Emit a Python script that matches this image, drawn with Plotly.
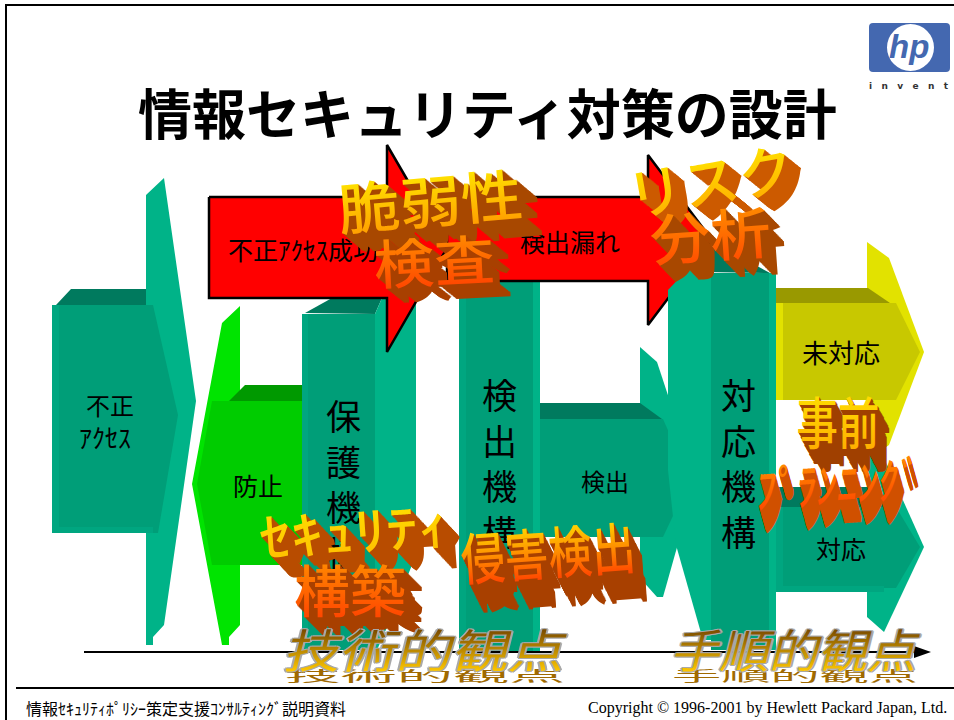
import json
import plotly.graph_objects as go

CJK = "Noto Sans CJK JP"

# Solid diagram parts, each a list of (x, y) corners in slide pixels
TEAL_FRONT, TEAL_SIDE, TEAL_TOP, TEAL_EDGE = "#009E78", "#00B388", "#007A5E", "#00A680"
GREEN_FRONT, GREEN_SIDE, GREEN_TOP = "#00CC00", "#00E400", "#009900"
YELLOW_FRONT, YELLOW_SIDE, YELLOW_TOP = "#C8C800", "#E2E200", "#999900"
RED = "#FF0000"

intrusion_parts = [
    ([(146, 195), (164, 178), (196, 401), (164, 625), (153, 637), (153, 645), (146, 645)], TEAL_SIDE),
    ([(56, 305), (71, 289), (146, 289), (146, 305)], TEAL_TOP),
    ([(52, 305), (153, 305), (178, 415), (158, 533), (52, 533)], TEAL_FRONT),
    ([(52, 305), (59, 305), (59, 527), (52, 533)], TEAL_EDGE),
    ([(52, 527), (153, 527), (153, 533), (52, 533)], TEAL_EDGE),
]
prevention_parts = [
    ([(222, 323), (240, 306), (240, 625), (229, 637), (229, 645), (222, 645), (192, 484)], GREEN_SIDE),
    ([(229, 401), (245, 385), (302, 385), (302, 401)], GREEN_TOP),
    ([(212, 401), (302, 401), (302, 565), (212, 565), (197, 484)], GREEN_FRONT),
]
protection_parts = [
    ([(305, 313), (332, 298), (382, 298), (375, 314)], TEAL_TOP),
    ([(375, 314), (382, 298), (416, 300), (416, 555), (388, 625), (377, 650), (375, 650)], TEAL_SIDE),
    ([(302, 314), (375, 314), (375, 650), (302, 650)], TEAL_FRONT),
    ([(302, 314), (308, 314), (308, 650), (302, 650)], TEAL_EDGE),
]
detection_parts = [
    ([(459, 280), (533, 280), (533, 652), (459, 652)], TEAL_FRONT),
    ([(459, 280), (466, 280), (466, 652), (459, 652)], TEAL_EDGE),
    ([(533, 280), (540, 280), (540, 652), (533, 652)], TEAL_SIDE),
]
red_left = [(209, 197), (387, 197), (387, 145), (447, 248), (387, 352), (387, 298), (209, 298)]
red_right = [(447, 197), (648, 197), (648, 155), (712, 240), (648, 325), (648, 281), (447, 281)]
detect_arrow_parts = [
    ([(640, 347), (657, 362), (696, 480), (663, 597), (657, 597), (640, 578)], TEAL_SIDE),
    ([(540, 403), (640, 403), (662, 419), (540, 419)], TEAL_TOP),
    ([(540, 419), (663, 419), (690, 480), (663, 537), (540, 537)], TEAL_FRONT),
]
response_parts = [
    ([(668, 290), (690, 267), (711, 273), (711, 640), (703, 640), (676, 545), (668, 470)], TEAL_SIDE),
    ([(703, 272), (715, 243), (770, 273)], TEAL_TOP),
    ([(711, 273), (769, 273), (769, 650), (711, 650)], TEAL_FRONT),
    ([(769, 273), (776, 273), (776, 650), (769, 650)], TEAL_SIDE),
]
unhandled_parts = [
    ([(867, 242), (889, 258), (924, 352), (889, 445), (867, 460)], YELLOW_SIDE),
    ([(776, 288), (868, 288), (890, 303), (776, 303)], YELLOW_TOP),
    ([(776, 303), (896, 303), (920, 352), (896, 400), (776, 400)], YELLOW_FRONT),
    ([(776, 303), (783, 303), (783, 400), (776, 400)], YELLOW_SIDE),
]
handled_parts = [
    ([(867, 445), (884, 458), (924, 547), (884, 632), (867, 617)], TEAL_SIDE),
    ([(776, 487), (868, 487), (889, 507), (776, 507)], TEAL_TOP),
    ([(776, 507), (896, 507), (920, 547), (896, 588), (776, 588)], TEAL_FRONT),
    ([(776, 507), (783, 507), (783, 592), (776, 592)], TEAL_EDGE),
    ([(776, 586), (884, 586), (884, 592), (776, 592)], TEAL_EDGE),
]

# Slide furniture
slide_frame_x, slide_frame_y = [6, 6, 954], [720, 5, 5]
footer_rule_x, footer_rule_y = [16, 954], [688, 688]
timeline_x, timeline_y = [84, 916], [652, 652]
timeline_head = [(914, 646), (931, 652), (914, 658)]

# Plain labels: text, x, y, size, anchor
labels = [
    ("不正", 110, 404, 24, "center"),
    ("ｱｸｾｽ", 105, 436, 26, "center"),
    ("防止", 258, 485, 25, "center"),
    ("保<br>護<br>機<br>構", 343, 483, 35, "center"),
    ("検<br>出<br>機<br>構", 499, 462, 35, "center"),
    ("対<br>応<br>機<br>構", 738, 462, 35, "center"),
    ("検出", 605, 480, 24, "center"),
    ("対応", 841, 548, 25, "center"),
    ("未対応", 841, 351, 26, "center"),
    ("不正ｱｸｾｽ成功", 226, 249, 25, "left"),
    ("検出漏れ", 570, 241, 25, "center"),
]

# Extruded headings: text, x, y, size, angle, gradient, depth (dx, dy), side colour, scale (sx, sy), skew
word_art = [
    ("脆弱性", 430, 198, 56, -5, ("#FFE800", "#FFA000"), (18, 20), "#A84800", (1.1, 1.0), 0),
    ("検査", 434, 258, 56, -3, ("#FF9000", "#FF4800"), (16, 16), "#A84000", (1.08, 0.95), 0),
    ("リスク", 710, 178, 56, -10, ("#FFE800", "#FFB000"), (14, 16), "#CC5A00", (1.0, 1.0), 0),
    ("分析", 710, 232, 56, -4, ("#FF9000", "#FF5000"), (14, 18), "#A84800", (1.08, 1.0), 0),
    ("事前", 838, 420, 46, 0, ("#FFE000", "#FFB000"), (14, 20), "#A04000", (0.9, 1.2), 0),
    ("ﾌﾟﾗﾝﾆﾝｸﾞ", 838, 481, 50, -4, ("#FF9000", "#FF4800"), (10, 22), "#D05000", (0.82, 0.98), -10),
    ("ｾｷｭﾘﾃｨ", 354, 528, 52, -4, ("#FFE000", "#FFC000"), (16, 24), "#B84C00", (1.22, 1.0), 0),
    ("構築", 350, 587, 56, 0, ("#FF8C00", "#FF4800"), (18, 18), "#A84000", (1.0, 1.0), 0),
    ("侵害検出", 548, 550, 46, -4, ("#FFE000", "#FF4800"), (14, 26), "#A84000", (0.95, 1.22), 0),
]

# Engraved captions beneath the timeline: text, x, y, size, (sx, sy)
captions = [
    ("技術的観点", 428, 648, 46, (1.22, 1.0)),
    ("手順的観点", 798, 648, 46, (1.07, 1.0)),
]

fig = go.Figure()


def add_polygon(points, color, line=None, width=0):
    xs = [p[0] for p in points]
    ys = [p[1] for p in points]
    fig.add_trace(go.Scatter(
        x=xs + xs[:1], y=ys + ys[:1], mode="lines", fill="toself", fillcolor=color,
        line=dict(color=line or color, width=width), hoverinfo="skip", showlegend=False,
    ))


def add_rule(xs, ys, width):
    fig.add_trace(go.Scatter(
        x=xs, y=ys, mode="lines", line=dict(color="black", width=width),
        hoverinfo="skip", showlegend=False,
    ))


for group in (intrusion_parts, prevention_parts, protection_parts, detection_parts):
    for corners, shade in group:
        add_polygon(corners, shade)

add_polygon(red_left, RED, "black", 2.5)
add_polygon(red_right, RED, "black", 2.5)

for group in (detect_arrow_parts, response_parts, unhandled_parts, handled_parts):
    for corners, shade in group:
        add_polygon(corners, shade)

add_rule(timeline_x, timeline_y, 2)
add_polygon(timeline_head, "black")
add_rule(slide_frame_x, slide_frame_y, 2)
add_rule(footer_rule_x, footer_rule_y, 2)

annotations = [
    dict(x=487, y=111, text="情報セキュリティ対策の設計", showarrow=False,
         font=dict(family=CJK, size=54, color="black", weight=700)),
    dict(x=186, y=708, text="情報ｾｷｭﾘﾃｨﾎﾟﾘｼｰ策定支援ｺﾝｻﾙﾃｨﾝｸﾞ説明資料", showarrow=False,
         font=dict(family=CJK, size=16, color="black")),
    dict(x=767, y=708, text="Copyright © 1996-2001 by Hewlett Packard Japan, Ltd.", showarrow=False,
         font=dict(family="Liberation Serif", size=16, color="black")),
    dict(x=909, y=46, text="<i><b>hp</b></i>", showarrow=False,
         font=dict(family="Liberation Sans", size=33, color="#4468B0")),
    dict(x=909, y=86, text="i   n   v   e   n   t", showarrow=False,
         font=dict(family="DejaVu Sans", size=9, color="#333333", weight=700)),
]
for text, x, y, size, anchor in labels:
    annotations.append(dict(x=x, y=y, text=text, showarrow=False, xanchor=anchor,
                            font=dict(family=CJK, size=size, color="black")))

text_fx = []
for text, x, y, size, angle, stops, depth, side, scale, skew in word_art:
    steps = max(depth)
    shadow = ", ".join(
        f"{depth[0] * s / steps:.1f}px {depth[1] * s / steps:.1f}px 0 {side}"
        for s in range(1, steps + 1)
    )
    annotations.append(dict(x=x, y=y, text=text, showarrow=False, textangle=angle,
                            font=dict(family=CJK, size=size, color=stops[0], weight=500, shadow=shadow)))
    text_fx.append(dict(text=text, stops=stops, scale=scale, skew=skew, squash=False))

outline = ["-1px -1px 0 #A8A8A8", "1px -1px 0 #A8A8A8", "-1px 1px 0 #A8A8A8", "1px 1px 0 #A8A8A8",
           "-2px 0 0 #A8A8A8", "2px 0 0 #A8A8A8"]
for text, x, y, size, scale in captions:
    annotations.append(dict(x=x, y=y, text=text, showarrow=False,
                            font=dict(family=CJK, size=size, color="#C89000", weight=400,
                                      shadow=", ".join(outline))))
    text_fx.append(dict(text=text, stops=("#6A3C00", "#FFC800"), scale=scale, skew=-14, squash=True))

shapes = [
    dict(type="path", layer="above", fillcolor="#4468B0", line=dict(width=0),
         path="M 873 23 L 946 23 Q 950 23 950 27 L 950 68 Q 950 72 946 72 L 873 72 "
              "Q 869 72 869 68 L 869 27 Q 869 23 873 23 Z"),
    dict(type="circle", layer="above", fillcolor="white", line=dict(width=0),
         x0=887, x1=934, y0=24, y1=71),
]

fig.update_layout(
    width=954, height=720, margin=dict(l=0, r=0, t=0, b=0),
    paper_bgcolor="white", plot_bgcolor="white", showlegend=False,
    xaxis=dict(range=[0, 954], visible=False, fixedrange=True),
    yaxis=dict(range=[720, 0], visible=False, fixedrange=True),
    annotations=annotations, shapes=shapes,
)

# Gradient faces, non-uniform stretching and the flattened cast shadow of the captions
# are not available from annotation fonts, so they are applied to the rendered text nodes.
post_script = """
var fx = %s;
var gd = document.getElementById('{plot_id}');
var svg = gd.querySelector('svg.main-svg');
var ns = 'http://www.w3.org/2000/svg';
var defs = svg.querySelector('defs');
gd.querySelectorAll('text.annotation-text').forEach(function (node) {
  fx.forEach(function (item, i) {
    if (node.textContent !== item.text) return;
    var g = document.createElementNS(ns, 'linearGradient');
    g.setAttribute('id', 'face' + i);
    g.setAttribute('x1', '0'); g.setAttribute('y1', '0');
    g.setAttribute('x2', '0'); g.setAttribute('y2', '1');
    item.stops.forEach(function (c, k) {
      var s = document.createElementNS(ns, 'stop');
      s.setAttribute('offset', k ? '0.85' : '0.15');
      s.setAttribute('stop-color', c);
      g.appendChild(s);
    });
    defs.appendChild(g);
    var base = 'skewX(' + item.skew + 'deg) scale(' + item.scale[0] + ',' + item.scale[1] + ')';
    node.style.transformBox = 'fill-box';
    node.style.transformOrigin = 'center';
    if (item.squash) {
      var cast = node.cloneNode(true);
      cast.style.fill = '#A06A00';
      cast.style.textShadow = 'none';
      cast.style.transform = 'translate(-3px,27px) scale(' + item.scale[0] + ',0.3)';
      node.parentNode.insertBefore(cast, node);
    }
    node.style.fill = 'url(#face' + i + ')';
    node.style.transform = base;
  });
});
""" % json.dumps(text_fx, ensure_ascii=False)

fig.write_html("out.html", post_script=post_script, config={"displayModeBar": False})
